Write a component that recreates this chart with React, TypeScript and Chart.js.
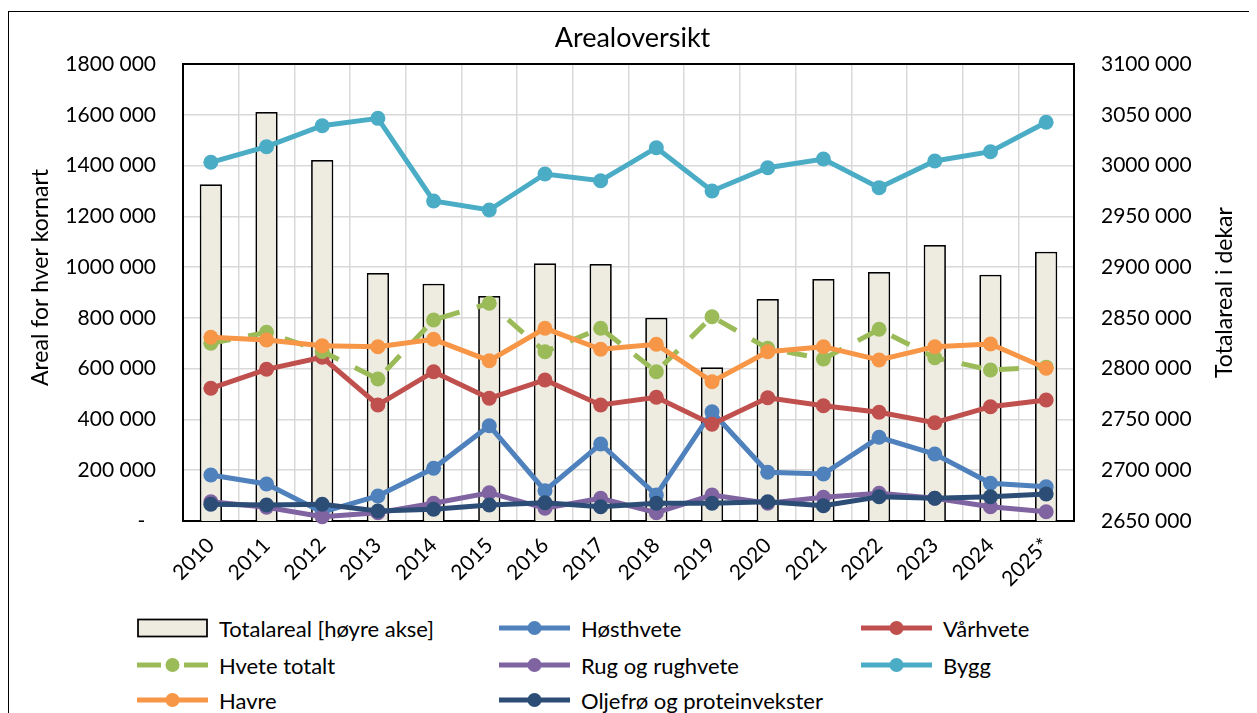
import React, { useEffect, useRef } from "react";
import { Chart, registerables } from "chart.js";

Chart.register(...registerables);

const years = ["2010", "2011", "2012", "2013", "2014", "2015", "2016", "2017", "2018", "2019", "2020", "2021", "2022", "2023", "2024", "2025*"];

const totalareal = [2981500, 3052700, 3005400, 2894200, 2883600, 2871500, 2903700, 2903000, 2850200, 2801300, 2868600, 2888300, 2895200, 2921700, 2892500, 2915200];
const hosthvete = [181200, 145700, 35000, 98500, 207600, 375400, 119300, 303300, 102400, 430500, 191800, 185100, 329700, 263900, 148500, 135100];
const varhvete = [522600, 597500, 644800, 456900, 588000, 483300, 555400, 456900, 487200, 380900, 485600, 454100, 428100, 387200, 450200, 476600];
const hveteTotalt = [699900, 743200, 668000, 559300, 791700, 857400, 666800, 759000, 588000, 804700, 680200, 638100, 755000, 643200, 594700, 606000];
const rugOgRughvete = [76000, 54000, 17000, 32700, 69700, 111500, 50000, 89400, 32700, 102400, 69700, 93300, 109100, 89400, 56300, 36600];
const bygg = [1412800, 1474300, 1557000, 1586000, 1260400, 1225000, 1366700, 1340400, 1470400, 1299800, 1391600, 1425800, 1312900, 1418000, 1454600, 1570300];
const havre = [723600, 712900, 690500, 686600, 715600, 631400, 759000, 676200, 695900, 548700, 666900, 686600, 634100, 686600, 697100, 601400];
const oljefro = [65800, 63000, 65800, 39400, 46100, 63000, 72100, 56300, 69700, 69700, 76000, 60300, 95700, 89400, 95700, 106300];

const leftTickLabels = ["-  ", "200 000", "400 000", "600 000", "800 000", "1000 000", "1200 000", "1400 000", "1600 000", "1800 000"];
const rightTickLabels = ["2650 000", "2700 000", "2750 000", "2800 000", "2850 000", "2900 000", "2950 000", "3000 000", "3050 000", "3100 000"];

const chartTitle = "Arealoversikt";
const leftAxisTitle = "Areal for hver kornart";
const rightAxisTitle = "Totalareal i dekar";

const FONT = "Lato, 'Open Sans', sans-serif";

const COLORS = {
  bar: "#EEECE1",
  hosthvete: "#4F81BD",
  varhvete: "#C0504D",
  hveteTotalt: "#9BBB59",
  rug: "#8064A2",
  bygg: "#4BACC6",
  havre: "#F79646",
  oljefro: "#2C4D75",
};

type LegendItem = { label: string; color: string; kind: "bar" | "line" | "dash" };

const legendRows: LegendItem[][] = [
  [
    { label: "Totalareal [høyre akse]", color: COLORS.bar, kind: "bar" },
    { label: "Høsthvete", color: COLORS.hosthvete, kind: "line" },
    { label: "Vårhvete", color: COLORS.varhvete, kind: "line" },
  ],
  [
    { label: "Hvete totalt", color: COLORS.hveteTotalt, kind: "dash" },
    { label: "Rug og rughvete", color: COLORS.rug, kind: "line" },
    { label: "Bygg", color: COLORS.bygg, kind: "line" },
  ],
  [
    { label: "Havre", color: COLORS.havre, kind: "line" },
    { label: "Oljefrø og proteinvekster", color: COLORS.oljefro, kind: "line" },
  ],
];

const framePlugin = {
  id: "frameAndTitles",
  beforeDatasetsDraw(chart: any) {
    const { ctx, chartArea: a } = chart;
    ctx.save();
    ctx.strokeStyle = "#000";
    ctx.lineWidth = 2;
    ctx.strokeRect(a.left, a.top, a.right - a.left, a.bottom - a.top);
    ctx.restore();
  },
  afterDraw(chart: any) {
    const { ctx, chartArea: a } = chart;
    const midY = (a.top + a.bottom) / 2;
    ctx.save();
    ctx.fillStyle = "#000";
    ctx.font = `23px ${FONT}`;
    ctx.textAlign = "center";
    ctx.textBaseline = "middle";
    ctx.translate(33, midY - 15);
    ctx.rotate(-Math.PI / 2);
    ctx.fillText(leftAxisTitle, 0, 0);
    ctx.restore();
    ctx.save();
    ctx.fillStyle = "#000";
    ctx.font = `23px ${FONT}`;
    ctx.textAlign = "center";
    ctx.textBaseline = "middle";
    ctx.translate(1217, midY);
    ctx.rotate(-Math.PI / 2);
    ctx.fillText(rightAxisTitle, 0, 0);
    ctx.restore();
  },
};

function lineDataset(label: string, data: number[], color: string, order: number, dashed = false) {
  return {
    type: "line" as const,
    label,
    data,
    yAxisID: "y",
    borderColor: color,
    backgroundColor: color,
    borderWidth: 5,
    borderDash: dashed ? [20, 18] : [],
    pointRadius: 7.5,
    pointBorderWidth: 0,
    pointBackgroundColor: color,
    pointBorderColor: color,
    tension: 0,
    clip: false as any,
    order,
  };
}

function LegendSymbol({ item }: { item: LegendItem }) {
  if (item.kind === "bar") {
    return (
      <svg width={72} height={20} style={{ display: "block" }}>
        <rect x={1} y={1.5} width={69} height={17} fill={item.color} stroke="#000" strokeWidth={1.75} />
      </svg>
    );
  }
  return (
    <svg width={72} height={20} style={{ display: "block" }}>
      <line
        x1={0}
        y1={10}
        x2={71}
        y2={10}
        stroke={item.color}
        strokeWidth={5}
        strokeDasharray={item.kind === "dash" ? "24 23" : undefined}
      />
      <circle cx={35.5} cy={10} r={7} fill={item.color} />
    </svg>
  );
}

export default function App() {
  const canvasRef = useRef<HTMLCanvasElement | null>(null);

  useEffect(() => {
    document.documentElement.style.overflow = "hidden";
    Chart.defaults.font.family = FONT;
    Chart.defaults.color = "#000";
    const canvas = canvasRef.current;
    if (!canvas) return;
    const chart = new Chart(canvas, {
      data: {
        labels: years,
        datasets: [
          {
            type: "bar" as const,
            label: "Totalareal [høyre akse]",
            data: totalareal,
            yAxisID: "y1",
            backgroundColor: COLORS.bar,
            borderColor: "#000",
            borderWidth: 1.75,
            borderSkipped: false,
            barPercentage: 0.4,
            categoryPercentage: 1,
            order: 20,
          } as any,
          lineDataset("Høsthvete", hosthvete, COLORS.hosthvete, 9),
          lineDataset("Vårhvete", varhvete, COLORS.varhvete, 8),
          lineDataset("Hvete totalt", hveteTotalt, COLORS.hveteTotalt, 7, true),
          lineDataset("Rug og rughvete", rugOgRughvete, COLORS.rug, 6),
          lineDataset("Bygg", bygg, COLORS.bygg, 5),
          lineDataset("Havre", havre, COLORS.havre, 4),
          lineDataset("Oljefrø og proteinvekster", oljefro, COLORS.oljefro, 3),
        ],
      },
      options: {
        responsive: false,
        animation: false,
        layout: { padding: { left: 0, right: 0, top: 0, bottom: 0 } },
        plugins: {
          legend: { display: false },
          tooltip: { enabled: false },
          title: {
            display: true,
            text: chartTitle,
            color: "#000",
            font: { size: 27, weight: "normal" as any, family: FONT },
            padding: { top: 14, bottom: 9.6 },
          },
        },
        scales: {
          x: {
            type: "category",
            offset: true,
            grid: { color: "#D9D9D9", lineWidth: 1.5, offset: true, drawTicks: false },
            border: { display: false },
            ticks: {
              autoSkip: false,
              minRotation: 45,
              maxRotation: 45,
              padding: 12,
              color: "#000",
              font: { size: 21, family: FONT },
            },
            afterFit: (scale: any) => {
              scale.height = 87;
            },
          },
          y: {
            type: "linear",
            position: "left",
            min: 0,
            max: 1800000,
            grid: { color: "#D9D9D9", lineWidth: 1.5, drawTicks: false },
            border: { display: false },
            ticks: {
              stepSize: 200000,
              padding: 27,
              color: "#000",
              font: { size: 21, family: FONT },
              callback: (_v: any, i: number) => leftTickLabels[i],
            },
            afterFit: (scale: any) => {
              scale.width = 175;
            },
          },
          y1: {
            type: "linear",
            position: "right",
            min: 2650000,
            max: 3100000,
            grid: { display: false, drawTicks: false },
            border: { display: false },
            ticks: {
              stepSize: 50000,
              padding: 27,
              color: "#000",
              font: { size: 21, family: FONT },
              callback: (_v: any, i: number) => rightTickLabels[i],
            },
            afterFit: (scale: any) => {
              scale.width = 183;
            },
          },
        },
      } as any,
      plugins: [framePlugin],
    });
    return () => chart.destroy();
  }, []);

  const colLefts = [129, 491, 853];
  const rowCenters = [620, 657, 692];

  return (
    <div style={{ position: "relative", width: 1249, height: 705, overflow: "hidden", fontFamily: FONT }}>
      <div
        style={{
          position: "absolute",
          left: 0,
          top: 3,
          width: 1400,
          height: 900,
          borderTop: "1px solid #000",
          borderLeft: "1px solid #000",
          boxSizing: "border-box",
        }}
      />
      <canvas
        ref={canvasRef}
        width={1249}
        height={600}
        style={{ position: "absolute", left: 0, top: 0, width: 1249, height: 600 }}
      />
      {legendRows.map((row, r) =>
        row.map((item, c) => (
          <div
            key={item.label}
            style={{
              position: "absolute",
              left: colLefts[c],
              top: rowCenters[r] - 14,
              height: 28,
              display: "flex",
              alignItems: "center",
              whiteSpace: "nowrap",
              fontSize: 22,
              color: "#000",
            }}
          >
            <LegendSymbol item={item} />
            <span style={{ marginLeft: 10 }}>{item.label}</span>
          </div>
        ))
      )}
    </div>
  );
}
